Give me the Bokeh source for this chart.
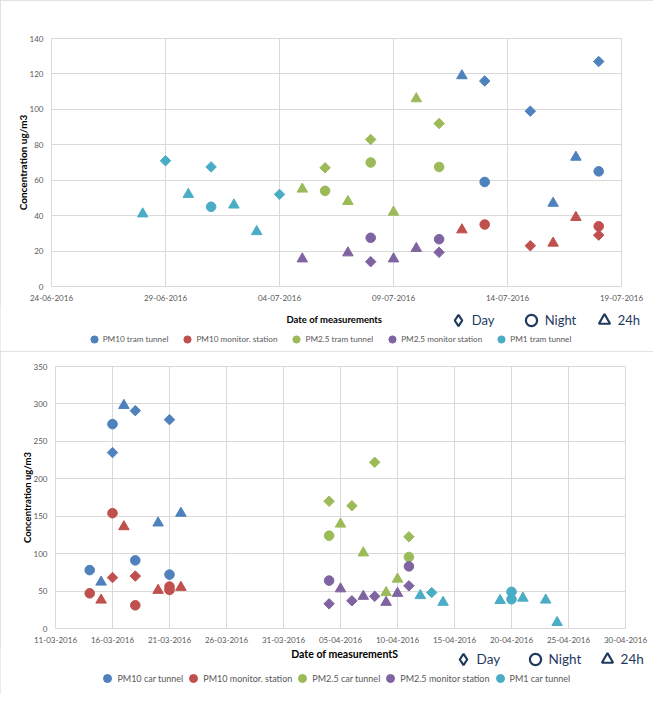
import math
import pandas as pd
from bokeh.plotting import figure
from bokeh.models import (Range1d, FixedTicker, DatetimeTickFormatter, Legend,
                          LegendItem, ColumnDataSource, Label)
from bokeh.layouts import column
from bokeh.embed import file_html
from bokeh.resources import INLINE

# ---------------- top chart: tram tunnel (June - July 2016) ----------------
top_xticks = ["2016-06-24", "2016-06-29", "2016-07-04", "2016-07-09", "2016-07-14", "2016-07-19"]
top_yticks = [0, 20, 40, 60, 80, 100, 120, 140]

pm10_tram_dates = ["2016-07-12", "2016-07-13", "2016-07-13", "2016-07-15", "2016-07-16",
                   "2016-07-17", "2016-07-18", "2016-07-18"]
pm10_tram_values = [119, 116, 59, 99, 47, 73, 127, 65]
pm10_tram_period = ["24h", "Day", "Night", "Day", "24h", "24h", "Day", "Night"]

pm10_mon1_dates = ["2016-07-12", "2016-07-13", "2016-07-15", "2016-07-16", "2016-07-17",
                   "2016-07-18", "2016-07-18"]
pm10_mon1_values = [32, 35, 23, 24.5, 39, 34, 29]
pm10_mon1_period = ["24h", "Night", "Day", "24h", "24h", "Night", "Day"]

pm25_tram_dates = ["2016-07-05", "2016-07-06", "2016-07-06", "2016-07-07", "2016-07-08",
                   "2016-07-08", "2016-07-09", "2016-07-10", "2016-07-11", "2016-07-11"]
pm25_tram_values = [55, 67, 54, 48, 83, 70, 42, 106, 92, 67.5]
pm25_tram_period = ["24h", "Day", "Night", "24h", "Day", "Night", "24h", "24h", "Day", "Night"]

pm25_mon1_dates = ["2016-07-05", "2016-07-07", "2016-07-08", "2016-07-08", "2016-07-09",
                   "2016-07-10", "2016-07-11", "2016-07-11"]
pm25_mon1_values = [15.6, 19, 14, 27.5, 15.6, 21.5, 19.3, 26.7]
pm25_mon1_period = ["24h", "24h", "Day", "Night", "24h", "24h", "Day", "Night"]

pm1_tram_dates = ["2016-06-28", "2016-06-29", "2016-06-30", "2016-07-01", "2016-07-01",
                  "2016-07-02", "2016-07-03", "2016-07-04"]
pm1_tram_values = [41, 71, 52, 67.5, 45, 46, 31, 52]
pm1_tram_period = ["24h", "Day", "24h", "Day", "Night", "24h", "24h", "Day"]

# ---------------- bottom chart: car tunnel (March - April 2016) ----------------
bot_xticks = ["2016-03-11", "2016-03-16", "2016-03-21", "2016-03-26", "2016-03-31", "2016-04-05",
              "2016-04-10", "2016-04-15", "2016-04-20", "2016-04-25", "2016-04-30"]
bot_yticks = [0, 50, 100, 150, 200, 250, 300, 350]

pm10_car_dates = ["2016-03-14", "2016-03-15", "2016-03-16", "2016-03-16", "2016-03-17", "2016-03-18",
                  "2016-03-18", "2016-03-20", "2016-03-21", "2016-03-21", "2016-03-22"]
pm10_car_values = [78, 62, 273, 235, 298, 291, 91, 141, 279, 72, 154]
pm10_car_period = ["Night", "24h", "Night", "Day", "24h", "Day", "Night", "24h", "Day", "Night", "24h"]

pm10_mon2_dates = ["2016-03-14", "2016-03-15", "2016-03-16", "2016-03-16", "2016-03-17", "2016-03-18",
                   "2016-03-18", "2016-03-20", "2016-03-21", "2016-03-21", "2016-03-22"]
pm10_mon2_values = [47, 38, 68, 154, 136, 70, 31, 51, 56, 51.5, 55]
pm10_mon2_period = ["Night", "24h", "Day", "Night", "24h", "Day", "Night", "24h", "Night", "Night", "24h"]

pm25_car_dates = ["2016-04-04", "2016-04-04", "2016-04-05", "2016-04-06", "2016-04-07",
                  "2016-04-08", "2016-04-09", "2016-04-10", "2016-04-11", "2016-04-11"]
pm25_car_values = [170, 124, 139.5, 164, 101, 222, 48, 66, 122.5, 95.5]
pm25_car_period = ["Day", "Night", "24h", "Day", "24h", "Day", "24h", "24h", "Day", "Night"]

pm25_mon2_dates = ["2016-04-04", "2016-04-04", "2016-04-05", "2016-04-06", "2016-04-07",
                   "2016-04-08", "2016-04-09", "2016-04-10", "2016-04-11", "2016-04-11"]
pm25_mon2_values = [64, 33, 53, 37, 43, 43, 35, 47, 83, 57]
pm25_mon2_period = ["Night", "Day", "24h", "Day", "24h", "Day", "24h", "24h", "Night", "Day"]

pm1_car_dates = ["2016-04-12", "2016-04-13", "2016-04-14", "2016-04-19", "2016-04-20",
                 "2016-04-20", "2016-04-21", "2016-04-23", "2016-04-24"]
pm1_car_values = [44, 48, 35, 37.5, 49, 39, 40.6, 38, 8]
pm1_car_period = ["24h", "Day", "24h", "24h", "Night", "Night", "24h", "24h", "24h"]

# ---------------- styling ----------------
FONT = "Lato"
BLUE, RED, GREEN, PURPLE, AQUA = "#4F81BD", "#C0504D", "#9BBB59", "#8064A2", "#4BACC6"
NAVY = "#1F3A5F"
GRID = "#D9D9D9"
TICK_TXT = "#595959"
W = 653

MARKERS = {"Day": ("square", math.pi / 4, 7.4),
           "Night": ("circle", 0.0, 9.6),
           "24h": ("triangle", 0.0, 10.5)}


def ms(d):
    return (pd.Timestamp(d) - pd.Timestamp("1970-01-01")) / pd.Timedelta(milliseconds=1)


def make_fig(height, xticks, yticks, border, ytitle, ytitle_size, ystand):
    p = figure(width=W, height=height, x_axis_type="datetime", title=None,
               x_range=Range1d(ms(xticks[0]), ms(xticks[-1])),
               y_range=Range1d(yticks[0], yticks[-1]),
               output_backend="svg", toolbar_location=None, frame_align=False,
               min_border_left=border[0], min_border_right=border[1],
               min_border_top=border[2], min_border_bottom=border[3])
    p.background_fill_color = "white"
    p.border_fill_color = "white"
    p.outline_line_color = GRID
    p.xaxis.ticker = FixedTicker(ticks=[ms(t) for t in xticks])
    fmt = "%d-%m-%Y"
    p.xaxis.formatter = DatetimeTickFormatter(days=fmt, months=fmt, years=fmt, hours=fmt,
                                              minutes=fmt, seconds=fmt, milliseconds=fmt,
                                              microseconds=fmt, hourmin=fmt, minsec=fmt)
    p.yaxis.ticker = FixedTicker(ticks=yticks)
    p.grid.grid_line_color = GRID
    p.grid.grid_line_width = 1
    for ax in (p.xaxis, p.yaxis):
        ax.axis_line_color = None
        ax.major_tick_line_color = None
        ax.minor_tick_line_color = None
        ax.major_tick_out = 0
        ax.major_tick_in = 0
        ax.major_label_text_font = FONT
        ax.major_label_text_font_size = "8px"
        ax.major_label_text_color = TICK_TXT
        ax.major_label_standoff = 8
    p.yaxis.axis_label = ytitle
    p.yaxis.axis_label_text_font = FONT
    p.yaxis.axis_label_text_font_style = "bold"
    p.yaxis.axis_label_text_color = "#000000"
    p.yaxis.axis_label_text_font_size = ytitle_size
    p.yaxis.axis_label_standoff = ystand
    return p


def draw_series(p, dates, values, periods, color):
    for per, (marker, angle, size) in MARKERS.items():
        idx = [i for i, q in enumerate(periods) if q == per]
        if not idx:
            continue
        src = ColumnDataSource(dict(x=[ms(dates[i]) for i in idx], y=[values[i] for i in idx]))
        p.scatter("x", "y", source=src, marker=marker, angle=angle, size=size,
                  fill_color=color, line_color=color, line_width=1, line_join="round")


def make_strip(height):
    s = figure(width=W, height=height, x_range=Range1d(0, W), y_range=Range1d(height, 0),
               output_backend="svg", toolbar_location=None, title=None, frame_align=False,
               x_axis_location=None, y_axis_location=None,
               min_border=0, min_border_left=0, min_border_right=0,
               min_border_top=0, min_border_bottom=0)
    s.grid.visible = False
    s.outline_line_color = None
    s.background_fill_color = "white"
    s.border_fill_color = "white"
    return s


def make_legend(items, loc, glyph, standoff, spacing, font_size, color, label_width=20):
    return Legend(items=items, location=loc, orientation="horizontal",
                  glyph_width=glyph, glyph_height=glyph, label_standoff=standoff,
                  label_width=label_width, padding=0, margin=0, spacing=spacing,
                  border_line_color=None, background_fill_alpha=0,
                  label_text_font=FONT, label_text_font_size=font_size,
                  label_text_color=color, label_text_baseline="middle")


# legend-key renderers hold one point outside the strip's visible range
OFF = dict(x=[-1000], y=[-1000])


def series_legend(s, names, colors, loc, glyph, standoff, spacing, font_size):
    items = []
    for name, col in zip(names, colors):
        r = s.scatter(x=OFF["x"], y=OFF["y"], marker="circle", fill_color=col, line_color=col)
        items.append(LegendItem(label=name, renderers=[r]))
    s.add_layout(make_legend(items, loc, glyph, standoff, spacing, font_size, TICK_TXT))


def marker_legend(s, loc, glyph, standoff, spacing, font_size, lw):
    items = []
    for lab, marker in [("Day", "diamond"), ("Night", "circle"), ("24h", "triangle")]:
        r = s.scatter(x=OFF["x"], y=OFF["y"], marker=marker, fill_color=None,
                      line_color=NAVY, line_width=2.2)
        items.append(LegendItem(label=lab, renderers=[r]))
    s.add_layout(make_legend(items, loc, glyph, standoff, spacing, font_size, NAVY, lw))


def axis_title(s, text, x, y, size):
    s.add_layout(Label(x=x, y=y, text=text, text_align="center", text_baseline="middle",
                       text_font=FONT, text_font_style="bold", text_font_size=size,
                       text_color="#000000"))


BOX = {"outline": "1px solid #D9D9D9", "outline-offset": "-1px"}

# ---------------- top chart ----------------
p1 = make_fig(305, top_xticks, top_yticks, (51, 32, 38, 19), "Concentration ug/m3", "10px", -2)
draw_series(p1, pm10_tram_dates, pm10_tram_values, pm10_tram_period, BLUE)
draw_series(p1, pm10_mon1_dates, pm10_mon1_values, pm10_mon1_period, RED)
draw_series(p1, pm25_tram_dates, pm25_tram_values, pm25_tram_period, GREEN)
draw_series(p1, pm25_mon1_dates, pm25_mon1_values, pm25_mon1_period, PURPLE)
draw_series(p1, pm1_tram_dates, pm1_tram_values, pm1_tram_period, AQUA)

s1 = make_strip(46)
axis_title(s1, "Date of measurements", 333.8, 14, "9.5px")
marker_legend(s1, (443.7, 17), 28, -6, 7, "13px", 38)
top_names = ["PM10 tram tunnel", "PM10 monitor. station", "PM2.5 tram tunnel",
             "PM2.5 monitor station", "PM1 tram tunnel"]
series_legend(s1, top_names, [BLUE, RED, GREEN, PURPLE, AQUA], (84.7, 3), 18, -5, 10, "8.2px")

# ---------------- bottom chart ----------------
p2 = make_fig(296, bot_xticks, bot_yticks, (55, 28, 15, 19), "Concentration ug/m3", "9.5px", -2)
draw_series(p2, pm10_car_dates, pm10_car_values, pm10_car_period, BLUE)
draw_series(p2, pm10_mon2_dates, pm10_mon2_values, pm10_mon2_period, RED)
draw_series(p2, pm25_car_dates, pm25_car_values, pm25_car_period, GREEN)
draw_series(p2, pm25_mon2_dates, pm25_mon2_values, pm25_mon2_period, PURPLE)
draw_series(p2, pm1_car_dates, pm1_car_values, pm1_car_period, AQUA)

s2 = make_strip(47)
axis_title(s2, "Date of measurementS", 344.2, 6.5, "10.5px")
marker_legend(s2, (448.6, 21), 28, -4, 4, "13.5px", 40)
bot_names = ["PM10 car tunnel", "PM10 monitor. station", "PM2.5 car tunnel",
             "PM2.5 monitor station", "PM1 car tunnel"]
series_legend(s2, bot_names, [BLUE, RED, GREEN, PURPLE, AQUA], (97.4, 6), 20, -4, -2, "9px")

top = column(p1, s1, spacing=0, styles=BOX)
bottom = column(p2, s2, spacing=0, styles=BOX)
layout = column(top, bottom, spacing=0)
open("out.html", "w").write(file_html(layout, INLINE))
